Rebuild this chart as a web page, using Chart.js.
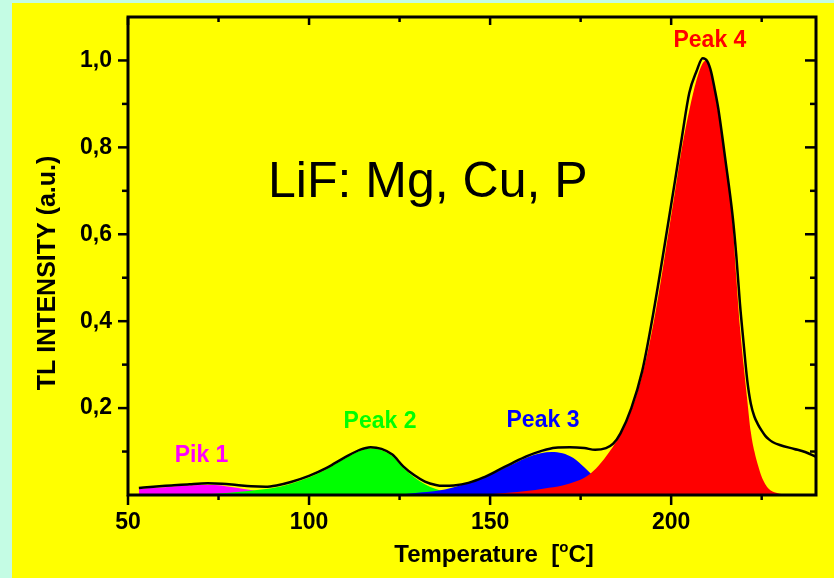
<!DOCTYPE html>
<html>
<head>
<meta charset="utf-8">
<script src="https://cdn.jsdelivr.net/npm/chart.js@4.4.1/dist/chart.umd.min.js"></script>
<style>
html,body{margin:0;padding:0;background:#c4fce4;}
canvas{display:block;}
</style>
</head>
<body>
<canvas id="c" width="834" height="578" style="width:834px;height:578px"></canvas>
<script>
// ---- data ----
const totalT = [53,57,62,67,72,76,80,84,88,91,95,100,105,110,114,117,120,123,126,129,132,135,137,140,144,148,152,156,160,164,168,172,176,179,182,184,186,189,192,195,198,201,203,205,207,208.7,210,211,212,213,215,217,218,219,220,221,222,223,224,225,226,227,228,230,234,237,240];
const totalI = [0.016,0.019,0.022,0.025,0.027,0.026,0.023,0.020,0.019,0.022,0.030,0.044,0.063,0.087,0.104,0.110,0.106,0.093,0.066,0.046,0.031,0.023,0.021,0.022,0.028,0.040,0.056,0.073,0.089,0.101,0.109,0.110,0.108,0.104,0.108,0.118,0.142,0.200,0.285,0.415,0.565,0.720,0.825,0.925,0.975,1.005,0.998,0.975,0.935,0.890,0.770,0.640,0.550,0.440,0.350,0.265,0.210,0.180,0.162,0.148,0.136,0.128,0.122,0.115,0.106,0.099,0.088];

const pinkT = [53,56,60,65,70,74,78,82,85,88,91,95];
const pinkI = [0.014,0.016,0.018,0.021,0.023,0.023,0.019,0.014,0.010,0.006,0.003,0.000];

const greenT = [68,72,76,80,85,90,95,100,105,110,114,117,120,123,126,129,132,135,138,142,146];
const greenI = [0.000,0.002,0.004,0.007,0.011,0.016,0.026,0.040,0.060,0.084,0.101,0.107,0.103,0.089,0.062,0.041,0.025,0.014,0.007,0.002,0.000];

const blueT = [122,126,130,135,140,145,150,155,160,164,167,170,173,176,178,180,183,186,190];
const blueI = [0.000,0.002,0.005,0.009,0.018,0.031,0.046,0.066,0.086,0.096,0.099,0.096,0.085,0.064,0.048,0.032,0.015,0.006,0.000];

const redT = [150,155,160,165,170,174,177,180,183,186,189,191,193,195,197,199,201,203,205,207,208.5,209.6,211,212,213,214,215,216,217,218,219,220,221,222,223,224,225,226,227,228,230,234];
const redI = [0.002,0.005,0.009,0.015,0.022,0.032,0.045,0.068,0.100,0.140,0.195,0.245,0.310,0.390,0.485,0.590,0.695,0.800,0.885,0.955,0.990,1.000,0.970,0.930,0.880,0.830,0.765,0.705,0.625,0.500,0.386,0.300,0.220,0.145,0.100,0.068,0.042,0.025,0.014,0.008,0.003,0.000];

const xMajorTicks = [50,100,150,200];
const xMinorTicks = [75,125,175,225];
const yMajorTicks = [0.2,0.4,0.6,0.8,1.0];
const yMinorTicks = [0.1,0.3,0.5,0.7,0.9];

const peakLabels = ['Pik 1','Peak 2','Peak 3','Peak 4'];
const peakLabelT = [70.3,119.6,164.6,210.7];
const peakLabelI = [0.076,0.154,0.156,1.030];
const peakColors = ['#ff00ff','#00ff00','#0000ff','#ff0000'];

const chartTitle = 'LiF: Mg, Cu, P';
const titleT = 132.8, titleI = 0.685;
const yTitle = 'TL INTENSITY (a.u.)';

const pts = (t, v) => t.map((x, i) => ({x: x, y: v[i]}));
const FONT = '"Liberation Sans", Arial, sans-serif';

const decor = {
  id: 'decor',
  beforeDraw(chart) {
    const ctx = chart.ctx;
    ctx.save();
    ctx.fillStyle = '#c4fce4';
    ctx.fillRect(0, 0, chart.width, chart.height);
    ctx.fillStyle = '#ffff00';
    ctx.fillRect(12, 3, chart.width - 12, chart.height - 3);
    ctx.restore();
  },
  afterDraw(chart) {
    const ctx = chart.ctx;
    const a = chart.chartArea;
    const xs = chart.scales.x, ys = chart.scales.y;
    ctx.save();
    ctx.strokeStyle = '#000';
    ctx.lineWidth = 3;
    ctx.strokeRect(a.left, a.top, a.right - a.left, a.bottom - a.top);
    ctx.lineWidth = 2.5;
    const line = (x1, y1, x2, y2) => { ctx.beginPath(); ctx.moveTo(x1, y1); ctx.lineTo(x2, y2); ctx.stroke(); };
    xMajorTicks.forEach(v => { const p = xs.getPixelForValue(v); line(p, a.bottom, p, a.bottom + 10); line(p, a.top, p, a.top + 8); });
    xMinorTicks.forEach(v => { const p = xs.getPixelForValue(v); line(p, a.bottom, p, a.bottom + 5); line(p, a.top, p, a.top + 5); });
    yMajorTicks.forEach(v => { const p = ys.getPixelForValue(v); line(a.left - 10, p, a.left, p); line(a.right - 11, p, a.right, p); });
    yMinorTicks.forEach(v => { const p = ys.getPixelForValue(v); line(a.left - 6, p, a.left, p); line(a.right - 6, p, a.right, p); });

    // peak labels
    ctx.font = 'bold 23px ' + FONT;
    ctx.textAlign = 'center';
    ctx.textBaseline = 'alphabetic';
    peakLabels.forEach((s, i) => {
      ctx.fillStyle = peakColors[i];
      ctx.fillText(s, xs.getPixelForValue(peakLabelT[i]), ys.getPixelForValue(peakLabelI[i]));
    });
    // big title
    ctx.fillStyle = '#000';
    ctx.font = '50px ' + FONT;
    ctx.fillText(chartTitle, xs.getPixelForValue(titleT), ys.getPixelForValue(titleI));

    // y axis title
    ctx.save();
    ctx.translate(55, 273);
    ctx.rotate(-Math.PI / 2);
    ctx.font = 'bold 25px ' + FONT;
    ctx.textAlign = 'center';
    ctx.fillText(yTitle, 0, 0);
    ctx.restore();

    // x axis title with superscript degree
    ctx.font = 'bold 24px ' + FONT;
    const p1 = 'Temperature  [';
    const p3 = 'C]';
    const w1 = ctx.measureText(p1).width;
    const w3 = ctx.measureText(p3).width;
    ctx.font = 'bold 15px ' + FONT;
    const w2 = ctx.measureText('o').width;
    const cx = 494;
    let x0 = cx - (w1 + w2 + w3) / 2;
    const by = 562;
    ctx.textAlign = 'left';
    ctx.font = 'bold 24px ' + FONT;
    ctx.fillText(p1, x0, by);
    ctx.font = 'bold 15px ' + FONT;
    ctx.fillText('o', x0 + w1, by - 10);
    ctx.font = 'bold 24px ' + FONT;
    ctx.fillText(p3, x0 + w1 + w2, by);
    ctx.restore();
  }
};

new Chart(document.getElementById('c'), {
  type: 'line',
  data: {
    datasets: [
      {data: pts(totalT, totalI), borderColor: '#000', borderWidth: 2.5, fill: false, pointRadius: 0, order: 0, cubicInterpolationMode: 'monotone'},
      {data: pts(redT, redI), borderColor: '#ff0000', backgroundColor: '#ff0000', borderWidth: 0, fill: 'origin', pointRadius: 0, order: 1, cubicInterpolationMode: 'monotone'},
      {data: pts(blueT, blueI), borderColor: '#0000ff', backgroundColor: '#0000ff', borderWidth: 0, fill: 'origin', pointRadius: 0, order: 2, cubicInterpolationMode: 'monotone'},
      {data: pts(greenT, greenI), borderColor: '#00ff00', backgroundColor: '#00ff00', borderWidth: 0, fill: 'origin', pointRadius: 0, order: 3, cubicInterpolationMode: 'monotone'},
      {data: pts(pinkT, pinkI), borderColor: '#ff00ff', backgroundColor: '#ff00ff', borderWidth: 0, fill: 'origin', pointRadius: 0, order: 4, cubicInterpolationMode: 'monotone'}
    ]
  },
  options: {
    responsive: false,
    animation: false,
    devicePixelRatio: 1,
    layout: {padding: {left: 0, top: 17, right: 18, bottom: 0}},
    plugins: {legend: {display: false}, tooltip: {enabled: false}},
    scales: {
      x: {
        type: 'linear', min: 50, max: 240,
        grid: {display: false, drawTicks: false},
        border: {display: false},
        afterBuildTicks: s => { s.ticks = xMajorTicks.map(v => ({value: v})); },
        afterFit: s => { s.height = 83; s.paddingLeft = 0; s.paddingRight = 0; },
        ticks: {autoSkip: false, maxRotation: 0, padding: 14, color: '#000', font: {family: FONT, size: 23, weight: 'bold'}, callback: v => String(v)}
      },
      y: {
        type: 'linear', min: 0, max: 1.1,
        grid: {display: false, drawTicks: false},
        border: {display: false},
        afterBuildTicks: s => { s.ticks = yMajorTicks.map(v => ({value: v})); },
        afterFit: s => { s.width = 128; s.paddingTop = 0; s.paddingBottom = 0; },
        ticks: {autoSkip: false, padding: 16, color: '#000', font: {family: FONT, size: 23, weight: 'bold'}, callback: v => Number(v).toFixed(1).replace('.', ',')}
      }
    }
  },
  plugins: [decor]
});
</script>
</body>
</html>
